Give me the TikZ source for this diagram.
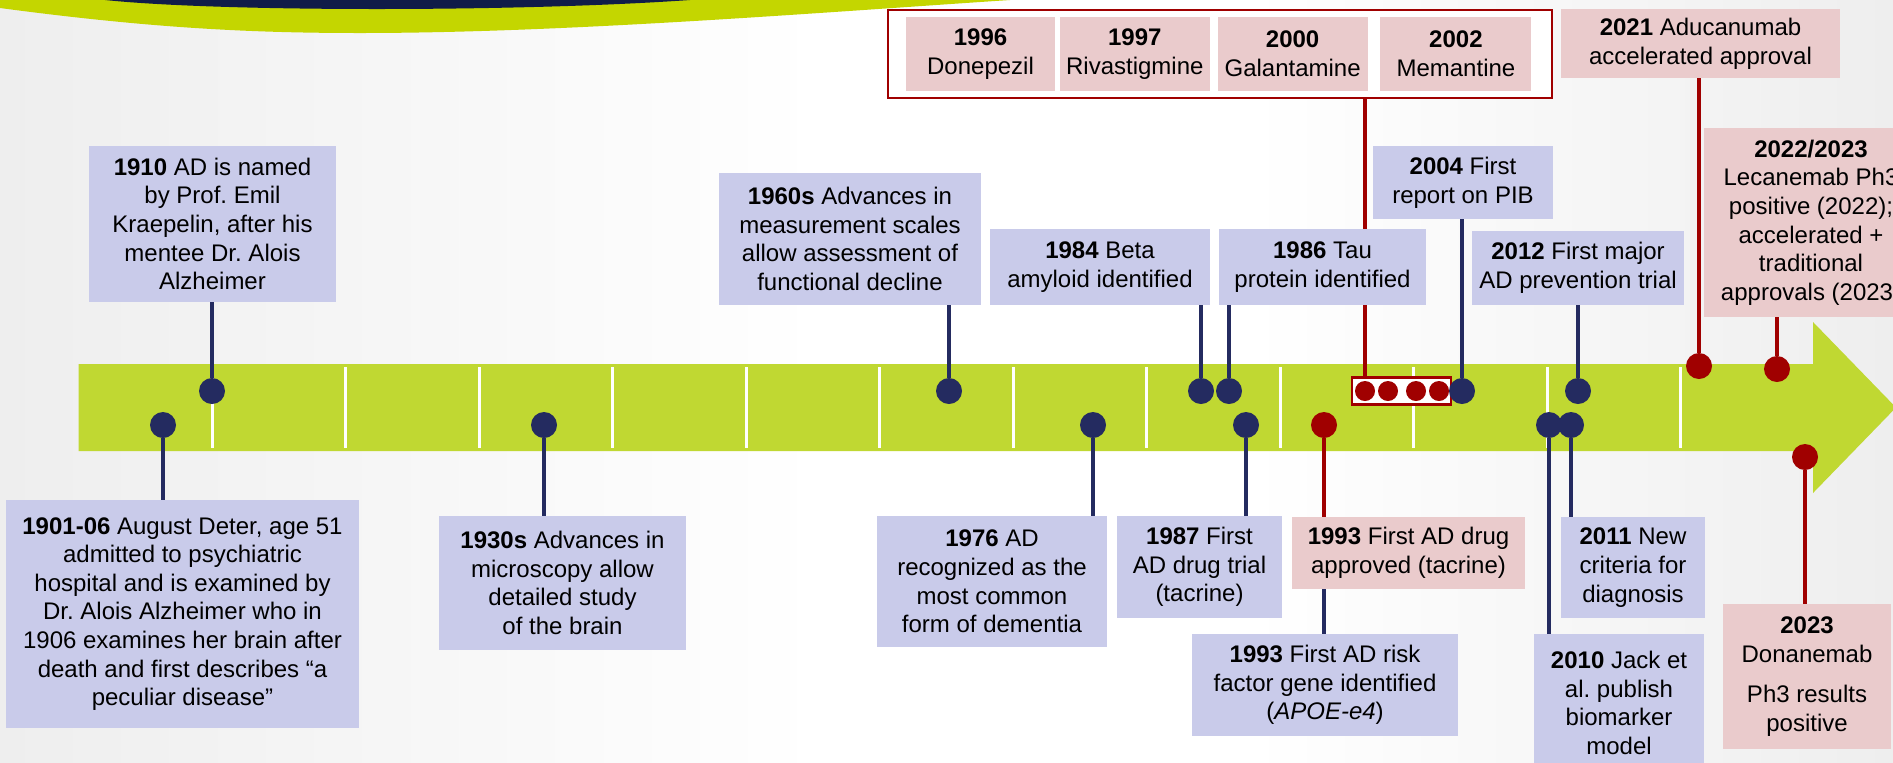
\documentclass[tikz,border=0pt]{standalone}
\usepackage{fontspec}
\setmainfont{Liberation Sans}
\usetikzlibrary{positioning}
\definecolor{dotnavy}{RGB}{36,43,96}
\definecolor{adred}{RGB}{160,0,0}
\definecolor{lav}{RGB}{201,203,234}
\definecolor{rose}{RGB}{234,203,204}
\definecolor{limebar}{RGB}{192,216,50}
\definecolor{limehdr}{RGB}{196,214,0}
\definecolor{hdrnavy}{RGB}{16,28,72}
\definecolor{bggray}{RGB}{238,238,238}
\tikzset{
  evbox/.style={align=center, inner sep=0pt, font=\fontsize{12}{14.3}\selectfont\frenchspacing},
  lavbox/.style={evbox, fill=lav},
  rosebox/.style={evbox, fill=rose},
  conn/.style={draw=dotnavy, line width=1.8pt},
  redconn/.style={draw=adred, line width=1.8pt},
  dot/.style={circle, fill=dotnavy, inner sep=0pt, minimum size=13pt},
  reddot/.style={dot, fill=adred},
  smalldot/.style={reddot, minimum size=10pt},
  divider/.style={white, line width=1.5pt}
}
\begin{document}
\begin{tikzpicture}[x=0.5pt, y=-0.5pt]
  \useasboundingbox (0,0) rectangle (1893,762);
  \clip (0,0) rectangle (1893,762);
  % background and header band
  \shade[left color=bggray, right color=white] (0,0) rectangle (820,762);
  \fill[white] (819,0) rectangle (1251,762);
  \shade[left color=white, right color=bggray] (1250,0) rectangle (1893,762);
  \fill[limehdr] (0,0) -- (0,8) .. controls (150,28) and (250,33) .. (360,33)
    .. controls (560,33) and (800,14) .. (1010,0) -- cycle;
  \fill[hdrnavy] (105,0) .. controls (220,12) and (520,12) .. (690,0) -- cycle;

  % timeline arrow
  \fill[limebar] (78.5,364) -- (1813,364) -- (1813,322) -- (1896,407.5)
    -- (1813,493) -- (1813,451) -- (78.5,451) -- cycle;
  \foreach \k in {1,...,12}
    \draw[divider] ({78.5+\k*133.5},367) -- ({78.5+\k*133.5},448);

  % approved drugs
  \node[draw=adred, line width=1.3pt, fill=white, inner sep=0pt,
        minimum width=332pt, minimum height=44pt] (frame) at (1220,54) {};
  \node[rosebox, minimum width=74.5pt, minimum height=37pt] (d1996) at (980.5,54)
    {\textbf{1996}\\Donepezil};
  \node[rosebox, minimum width=75pt, minimum height=37pt, right=2pt of d1996] (d1997)
    {\textbf{1997}\\Rivastigmine};
  \node[rosebox, minimum width=75pt, minimum height=37pt, right=3.5pt of d1997] (d2000)
    {\textbf{2000}\\Galantamine};
  \node[rosebox, minimum width=75.5pt, minimum height=37pt, right=6pt of d2000] (d2002)
    {\textbf{2002}\\Memantine};
  \node[draw=adred, line width=1.2pt, fill=white, inner sep=0pt,
        minimum width=49.5pt, minimum height=13.5pt] (grp) at (1401.5,391) {};
  \foreach \x [count=\i] in {1365,1388,1416,1439}
    \node[smalldot] (s\i) at (\x,391) {};
  \draw[redconn] (s1 |- grp.north) -- (s1 |- frame.south);

  % events above the bar
  \node[lavbox, minimum width=123.5pt, minimum height=78pt] (b1910) at (212.5,224)
    {\textbf{1910} AD is named\\by Prof. Emil\\Kraepelin, after his\\mentee Dr. Alois\\Alzheimer};
  \node[lavbox, minimum width=131pt, minimum height=66pt] (b1960) at (850,239)
    {\textbf{1960s} Advances in\\measurement scales\\allow assessment of\\functional decline};
  \node[lavbox, minimum width=110pt, minimum height=38pt] (b1984) at (1100,267)
    {\textbf{1984} Beta\\amyloid identified};
  \node[lavbox, minimum width=103.5pt, minimum height=38pt] (b1986) at (1322.5,267)
    {\textbf{1986} Tau\\protein identified};
  \node[lavbox, minimum width=90pt, minimum height=36.5pt] (b2004) at (1463,182.5)
    {\textbf{2004} First\\report on PIB};
  \node[lavbox, minimum width=106pt, minimum height=37pt] (b2012) at (1578,268)
    {\textbf{2012} First major\\AD prevention trial};
  \node[rosebox, minimum width=139.5pt, minimum height=34.5pt] (b2021) at (1700.5,43.5)
    {\textbf{2021} Aducanumab\\accelerated approval};
  \node[rosebox, minimum width=107pt, minimum height=94.5pt] (b2022) at (1811,222.5)
    {\textbf{2022/2023}\\Lecanemab Ph3\\positive (2022);\\accelerated +\\traditional\\approvals (2023)};

  % events below the bar
  \node[lavbox, minimum width=176.5pt, minimum height=114pt] (b1901) at (182.5,614)
    {\textbf{1901-06} August Deter, age 51\\admitted to psychiatric\\hospital and is examined by\\Dr. Alois Alzheimer who in\\1906 examines her brain after\\death and first describes “a\\peculiar disease”};
  \node[lavbox, minimum width=123.5pt, minimum height=67pt] (b1930) at (562.5,583)
    {\textbf{1930s} Advances in\\microscopy allow\\detailed study\\of the brain};
  \node[lavbox, minimum width=115pt, minimum height=65.5pt] (b1976) at (992,581.5)
    {\textbf{1976} AD\\recognized as the\\most common\\form of dementia};
  \node[lavbox, minimum width=82.5pt, minimum height=51pt] (b1987) at (1199.5,567)
    {\textbf{1987} First\\AD drug trial\\(tacrine)};
  \node[lavbox, minimum width=133pt, minimum height=51pt] (b1993g) at (1325,685)
    {\textbf{1993} First AD risk\\factor gene identified\\(\textit{APOE-e4})};
  \node[lavbox, minimum width=72pt, minimum height=50.5pt] (b2011) at (1633,567.5)
    {\textbf{2011} New\\criteria for\\diagnosis};
  \node[lavbox, minimum width=85pt, minimum height=69pt] (b2010) at (1619,703)
    {\textbf{2010} Jack et\\al. publish\\biomarker\\model};
  \node[rosebox, minimum width=84pt, minimum height=72.5pt] (b2023) at (1807,676.5)
    {\textbf{2023}\\Donanemab\\[6pt]Ph3 results\\positive};

  % dots on the bar
  \node[dot] (d1901) at (163,425) {};
  \node[dot] (d1910) at (212,391) {};
  \node[dot] (d1930) at (544,425) {};
  \node[dot] (d1960) at (949,391) {};
  \node[dot] (d1976) at (1093,425) {};
  \node[dot] (d1984) at (1201,391) {};
  \node[dot] (d1986) at (1229,391) {};
  \node[dot] (d1987) at (1246,425) {};
  \node[dot] (d2004) at (1462,391) {};
  \node[dot] (d2010) at (1549,425) {};
  \node[dot] (d2011) at (1571,425) {};
  \node[dot] (d2012) at (1578,391) {};
  \node[reddot] (d1993) at (1324,425) {};
  \node[reddot] (d2021) at (1699,366) {};
  \node[reddot] (d2022) at (1777,369) {};
  \node[reddot] (d2023) at (1805,457) {};

  % connectors
  \draw[conn] (d1901) -- (d1901 |- b1901.north);
  \draw[conn] (d1910) -- (d1910 |- b1910.south);
  \draw[conn] (d1930) -- (d1930 |- b1930.north);
  \draw[conn] (d1960) -- (d1960 |- b1960.south);
  \draw[conn] (d1976) -- (d1976 |- b1976.north);
  \draw[conn] (d1984) -- (d1984 |- b1984.south);
  \draw[conn] (d1986) -- (d1986 |- b1986.south);
  \draw[conn] (d1987) -- (d1987 |- b1987.north);
  \draw[conn] (d2004) -- (d2004 |- b2004.south);
  \draw[conn] (d2010) -- (d2010 |- b2010.north);
  \draw[conn] (d2011) -- (d2011 |- b2011.north);
  \draw[conn] (d2012) -- (d2012 |- b2012.south);
  \draw[conn] (d1993) -- (d1993 |- b1993g.north);
  \node[rosebox, minimum width=116.5pt, minimum height=36pt] (b1993d) at (1408.5,553)
    {\textbf{1993} First AD drug\\approved (tacrine)};
  \draw[redconn] (d1993) -- (d1993 |- b1993d.north);
  \draw[redconn] (d2021) -- (d2021 |- b2021.south);
  \draw[redconn] (d2022) -- (d2022 |- b2022.south);
  \draw[redconn] (d2023) -- (d2023 |- b2023.north);
\end{tikzpicture}
\end{document}
